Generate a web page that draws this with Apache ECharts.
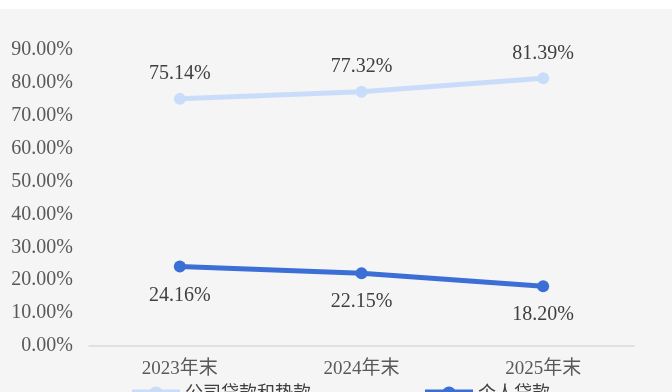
<!DOCTYPE html>
<html>
<head>
<meta charset="utf-8">
<script src="https://cdn.jsdelivr.net/npm/echarts@6/dist/echarts.min.js"></script>
<style>
  html, body { margin: 0; padding: 0; background: #ffffff; }
  #chart { position: absolute; left: 0; top: 9px; width: 672px; height: 383px; background: #f5f5f5; }
</style>
</head>
<body>
<div id="chart"></div>
<script>
// Loan structure as a share of total loans, year-end
const categories = ['2023年末', '2024年末', '2025年末'];
const corporateLoans = [75.14, 77.32, 81.39];   // 公司贷款和垫款
const personalLoans = [24.16, 22.15, 18.20];    // 个人贷款
const seriesNames = ['公司贷款和垫款', '个人贷款'];
const yTicks = { min: 0, max: 90, interval: 10 };

const serif = '"Liberation Serif", "Noto Sans CJK SC", serif';
// legend marker: a thick bar with a dot in the middle
const legendIcon = 'path://M0,4 L48,4 L48,16 L0,16 Z M17,8 A7,7 0 1,1 31,8 A7,7 0 1,1 17,8 Z';

const chart = echarts.init(document.getElementById('chart'), null, { renderer: 'canvas' });
const pct = v => v.toFixed(2) + '%';

chart.setOption({
  animation: false,
  backgroundColor: '#f5f5f5',
  grid: { left: 89, right: 38, top: 41, bottom: 46, containLabel: false },
  legend: {
    data: seriesNames.map(name => ({ name, icon: legendIcon })),
    left: 127,
    top: 371,
    itemWidth: 48,
    itemHeight: 15,
    itemGap: 114,
    textStyle: { fontFamily: serif, fontSize: 18, color: '#404040' }
  },
  xAxis: {
    type: 'category',
    data: categories,
    boundaryGap: true,
    axisLine: { show: true, lineStyle: { color: '#d9d9d9', width: 1.5 } },
    axisTick: { show: false },
    axisLabel: { fontFamily: serif, fontSize: 19, color: '#595959', margin: 14 }
  },
  yAxis: {
    type: 'value',
    min: yTicks.min,
    max: yTicks.max,
    interval: yTicks.interval,
    axisLine: { show: false },
    axisTick: { show: false },
    splitLine: { show: false },
    axisLabel: {
      fontFamily: serif, fontSize: 20, color: '#595959', margin: 16,
      padding: [4, 0, 0, 0],
      formatter: v => v.toFixed(2) + '%'
    }
  },
  series: [
    {
      name: seriesNames[0],
      type: 'line',
      data: corporateLoans,
      symbol: 'circle',
      symbolSize: 12,
      itemStyle: { color: '#c9ddfb' },
      lineStyle: { color: '#c9ddfb', width: 5 },
      label: {
        show: true, position: 'top', distance: 9,
        fontFamily: serif, fontSize: 20, color: '#404040',
        formatter: p => pct(p.value)
      }
    },
    {
      name: seriesNames[1],
      type: 'line',
      data: personalLoans,
      symbol: 'circle',
      symbolSize: 12,
      itemStyle: { color: '#3b6fd6' },
      lineStyle: { color: '#3b6fd6', width: 5 },
      label: {
        show: true, position: 'bottom', distance: 13,
        fontFamily: serif, fontSize: 20, color: '#404040',
        formatter: p => pct(p.value)
      }
    }
  ]
});
</script>
</body>
</html>
